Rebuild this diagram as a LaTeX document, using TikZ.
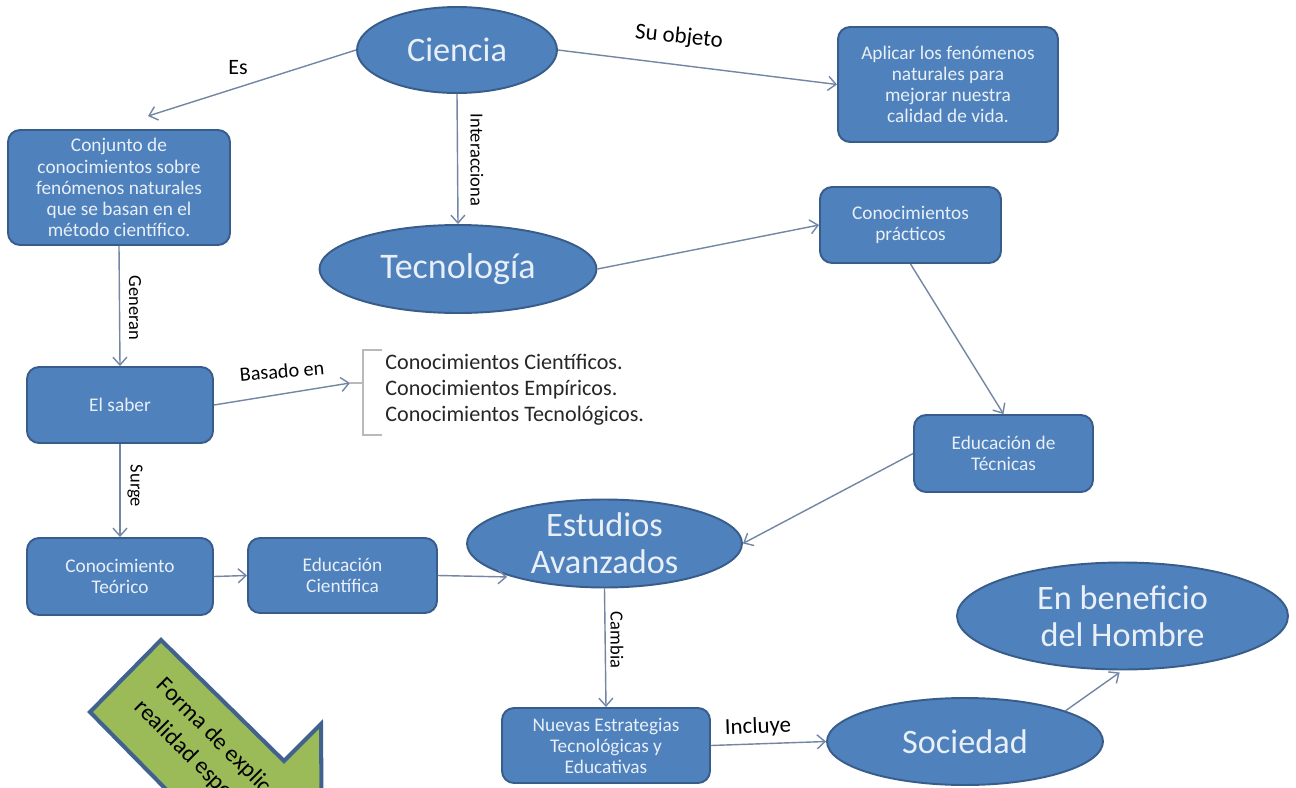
\documentclass[tikz,border=0pt]{standalone}
\usepackage{fontspec}
\setmainfont{Carlito}
\usetikzlibrary{arrows.meta,shapes.geometric}

\definecolor{azul}{RGB}{79,129,189}
\definecolor{borde}{RGB}{56,93,138}
\definecolor{linea}{RGB}{115,135,165}
\definecolor{letra}{RGB}{232,239,247}
\definecolor{verde}{RGB}{155,187,89}
\definecolor{bordeverde}{RGB}{65,98,143}

\begin{document}
\begin{tikzpicture}[x=0.02cm,y=-0.02cm,
	caja/.style={draw=borde,line width=1.1pt,fill=azul,rounded corners=0.24cm,text=letra,align=center,font=\fontsize{11}{12}\selectfont,inner sep=2pt},
	elipse/.style={ellipse,draw=borde,line width=1.1pt,fill=azul,text=letra,align=center,font=\fontsize{19.5}{21}\selectfont,inner sep=0pt},
	enlace/.style={draw=linea,line width=0.8pt,-{Straight Barb[length=4.5pt,width=8pt]}},
	etiqueta/.style={text=black,inner sep=0pt,font=\fontsize{13}{14}\selectfont},
	vertical/.style={etiqueta,rotate=-90,font=\fontsize{10.5}{12}\selectfont}]
		\useasboundingbox (0,0) rectangle (1296,788);
		\fill[white] (0,0) rectangle (1296,788);
		\clip (0,0) rectangle (1296,788);
		% nodos
		\node[elipse,minimum width=4cm,minimum height=1.72cm] (ciencia) at (457,50) {Ciencia};
		\node[caja,minimum width=4.4cm,minimum height=2.3cm] (aplicar) at (948,84.5) {Aplicar los fenómenos\\naturales para\\mejorar nuestra\\calidad de vida.};
		\node[caja,minimum width=4.44cm,minimum height=2.3cm] (conjunto) at (119,187.5) {Conjunto de\\conocimientos sobre\\fenómenos naturales\\que se basan en el\\método científico.};
		\node[elipse,minimum width=5.54cm,minimum height=1.76cm,font=\fontsize{20.5}{22}\selectfont] (tecnologia) at (458,269) {Tecnología};
		\node[caja,minimum width=3.62cm,minimum height=1.52cm] (practicos) at (910.5,225) {Conocimientos\\prácticos};
		\node[caja,minimum width=3.58cm,minimum height=1.54cm] (tecnicas) at (1003.5,453.5) {Educación de\\Técnicas};
		\node[caja,minimum width=3.72cm,minimum height=1.52cm] (saber) at (120,405) {El saber};
		\node[caja,minimum width=3.72cm,minimum height=1.54cm] (teorico) at (120,576.5) {Conocimiento\\Teórico};
		\node[caja,minimum width=3.78cm,minimum height=1.5cm] (cientifica) at (342.5,575.5) {Educación\\Científica};
		\node[elipse,minimum width=5.5cm,minimum height=1.76cm,inner ysep=-3pt] (estudios) at (604.5,543.5) {Estudios\\Avanzados};
		\node[caja,minimum width=4.16cm,minimum height=1.5cm] (nuevas) at (606,745.5) {Nuevas Estrategias\\Tecnológicas y\\Educativas};
		\node[elipse,minimum width=5.52cm,minimum height=1.74cm] (sociedad) at (965,741.5) {Sociedad};
		\node[elipse,minimum width=6.62cm,minimum height=2.14cm] (hombre) at (1122.5,616) {En beneficio\\del Hombre};
		
		% etiquetas
		\node[etiqueta,font=\fontsize{12.5}{14}\selectfont] (les) at (238,68) {Es};
		\node[etiqueta,rotate=-6] (lobjeto) at (679,37) {Su objeto};
		\node[vertical] (lint) at (477,160) {Interacciona};
		\node[vertical] (lgen) at (135,308) {Generan};
		\node[vertical] (lsurge) at (135,486) {Surge};
		\node[vertical] (lcambia) at (617,640) {Cambia};
		\node[etiqueta,rotate=5,font=\fontsize{11.5}{13}\selectfont] (lbasado) at (282,371) {Basado en};
		\node[etiqueta,rotate=2] (lincluye) at (758,727) {Incluye};
		
		% llave y lista
		\coordinate (llave) at (350,383);
		\draw[draw=gray!55,line width=0.6pt] (382,350) -- (363,350) -- (363,435) -- (382,435);
		\draw[draw=gray!55,line width=0.6pt] (363,383) -- (llave);
		\node[anchor=west,align=left,inner sep=0pt,text=black!85,font=\fontsize{12.6}{14.7}\selectfont] (lista) at (385,390) {Conocimientos Científicos.\\Conocimientos Empíricos.\\Conocimientos Tecnológicos.};
		
		% flechas
		\draw[enlace] (ciencia.west) -- ([xshift=0.58cm,yshift=0.26cm]conjunto.north);
		\draw[enlace] (ciencia.east) -- (aplicar.west);
		\draw[enlace] (ciencia.south) -- (tecnologia.north);
		\draw[enlace] (conjunto.south) -- (saber.north);
		\draw[enlace] (saber.south) -- (teorico.north);
		\draw[enlace] (saber.east) -- (llave);
		\draw[enlace] (tecnologia.east) -- (practicos.west);
		\draw[enlace] (practicos.south) -- (tecnicas.north);
		\draw[enlace] (tecnicas.west) -- (estudios.east);
		\draw[enlace] (teorico.east) -- (cientifica.west);
		\draw[enlace,shorten >=3pt] (cientifica.east) -- (estudios.200);
		\draw[enlace] (estudios.south) -- (nuevas.north);
		\draw[enlace] (nuevas.east) -- (sociedad.west);
		\draw[enlace,shorten >=2pt] (sociedad.17) -- (hombre.south);
		
		% flecha verde
		\draw[fill=verde,draw=bordeverde,line width=2.3pt,line join=miter] (161,640) -- (284,761) -- (321,724) -- (322,873) -- (172,872) -- (210,834) -- (90,712) -- cycle;
		\node[rotate=-45,anchor=west,align=left,inner sep=0pt,font=\fontsize{13.5}{17.5}\selectfont] (lforma) at (149,693) {Forma de explicar la\\realidad específica};
		
\end{tikzpicture}
\end{document}
